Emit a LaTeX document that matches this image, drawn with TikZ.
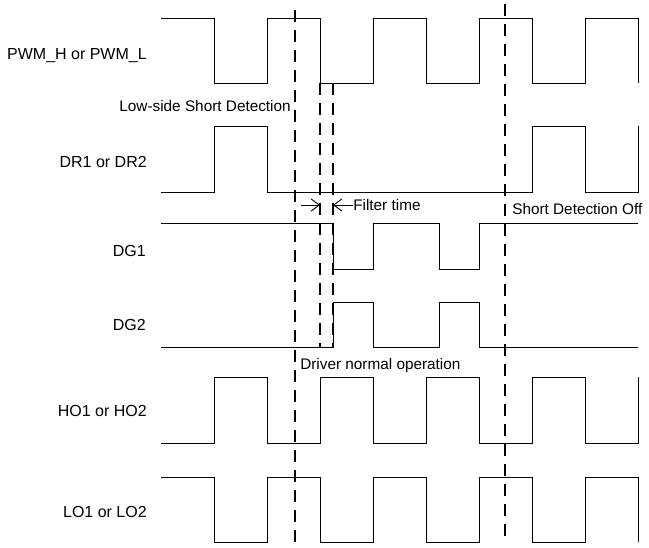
\documentclass[tikz,border=0pt]{standalone}
\usepackage{fontspec}
\setmainfont{Liberation Sans}
\usetikzlibrary{arrows.meta}

\begin{document}
\begin{tikzpicture}[x=0.75pt, y=-0.75pt,
    wave/.style={line width=0.6pt, line join=miter},
    marker/.style={line width=1.1pt, dash pattern=on 9pt off 6pt},
    sig/.style={anchor=base east, inner sep=0pt, font=\fontsize{12}{14}\selectfont},
    note/.style={inner sep=0pt, font=\fontsize{11.5}{13}\selectfont},
    gap/.style={-{Straight Barb[length=6pt,width=9pt]}, line width=0.7pt}]
    \useasboundingbox (0,0) rectangle (649,547);

    % Nazwy sygnalow
    \node (pwm) at (147,59.5) [sig] {PWM\_H or PWM\_L};
    \node (dr) at (147,167.5) [sig] {DR1 or DR2};
    \node (dgA) at (146,256.5) [sig] {DG1};
    \node (dgB) at (146,330) [sig] {DG2};
    \node (ho) at (147,416.5) [sig] {HO1 or HO2};
    \node (lo) at (147,517.5) [sig] {LO1 or LO2};

    % Przebiegi
    \draw[wave] (161,18) -| (214,83) -| (267,18) -| (320,83) -| (373,18) -| (426,83) -| (479,18) -| (532,83) -| (585,18) -| (638,83);
    \draw[wave] (161,192) -| (214,126) -| (267,192) -| (532,126) -| (585,192) -| (638,126);
    \draw[wave] (161,223) -| (333,269) -| (373,223) -| (439,269) -| (479,223) -- (638,223);
    \draw[wave] (161,347) -| (333,302) -| (373,347) -| (439,302) -| (479,347) -- (638,347);
    \draw[wave] (161,443) -| (214,377) -| (267,443) -| (320,377) -| (373,443) -| (426,377) -| (479,443) -| (532,377) -| (585,443) -| (638,377);
    \draw[wave] (161,477) -| (214,542) -| (267,477) -| (320,542) -| (373,477) -| (426,542) -| (479,477) -| (532,542) -| (585,477) -| (638,542);

    % Linie znacznikow
    \coordinate (m1t) at (295,10);  \coordinate (m1b) at (295,547);
    \coordinate (m2t) at (320,83);  \coordinate (m2b) at (320,347);
    \coordinate (m3t) at (333,83);  \coordinate (m3b) at (333,347);
    \coordinate (m4t) at (505,4);   \coordinate (m4b) at (505,543);
    \draw[marker] (m1t) -- (m1b);
    \draw[marker] (m2t) -- (m2b);
    \draw[marker] (m3t) -- (m3b);
    \draw[marker] (m4t) -- (m4b);

    % Opisy
    \node (lss) at (291,111.5) [note, anchor=base east] {Low-side Short Detection};
    \node (flt) at (353,210) [note, anchor=base west] {Filter time};
    \node (sdo) at (512,214) [note, anchor=base west] {Short Detection Off};
    \node (dno) at (300,369) [note, anchor=base west] {Driver normal operation};

    % Czas filtra
    \coordinate (fa) at (301,205);
    \coordinate (fb) at (320,205);
    \coordinate (fc) at (333,205);
    \draw[gap] (fa) -- (fb);
    \draw[gap] (flt.west |- fc) -- (fc);
\end{tikzpicture}
\end{document}
